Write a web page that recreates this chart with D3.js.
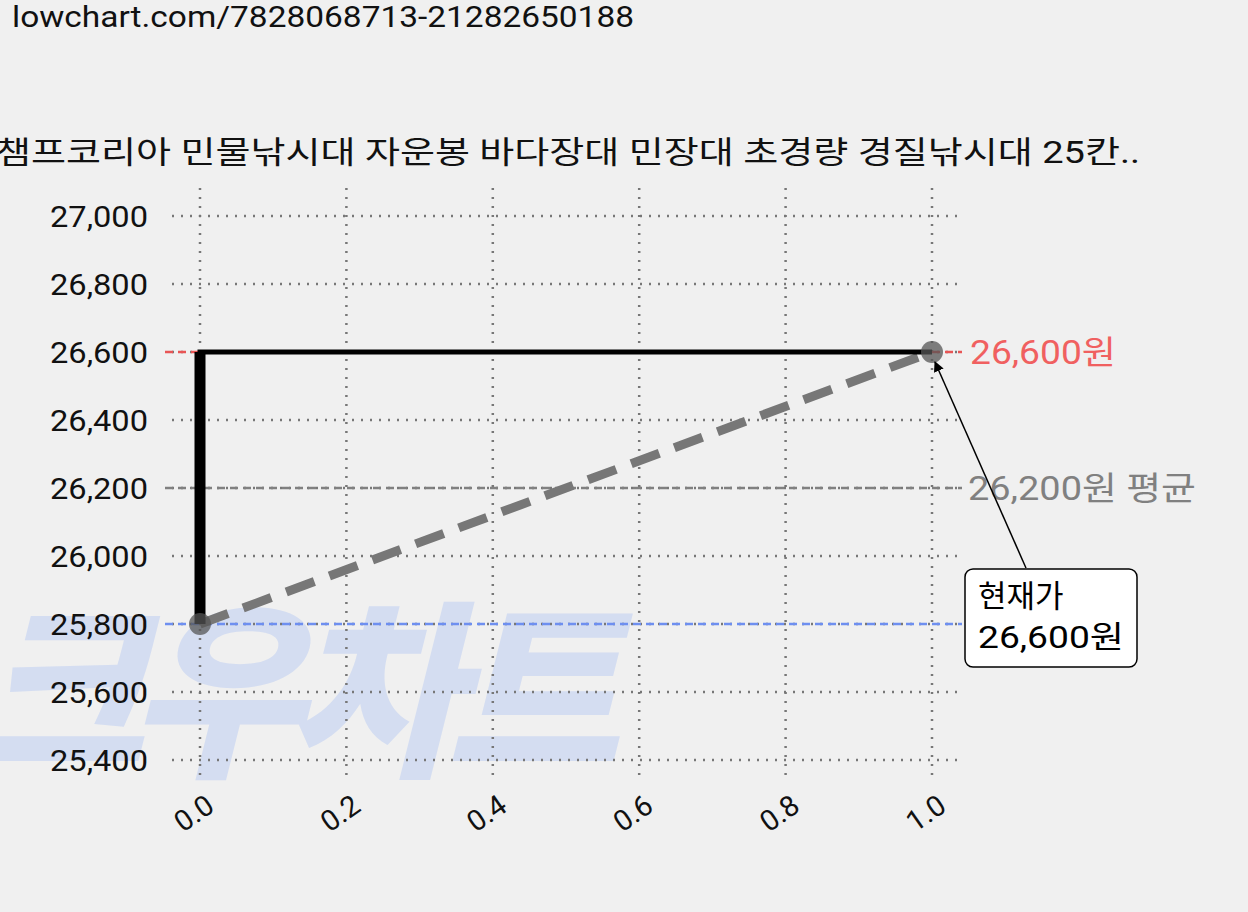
<!DOCTYPE html><html><head><meta charset="utf-8"><script src="https://cdn.jsdelivr.net/npm/d3@7"></script>
<style>body{margin:0;background:#f0f0f0}text{font-family:Roboto,"Noto Sans CJK KR",sans-serif}</style></head><body>
<svg id="c" width="1248" height="912"></svg>
<script>
const xs=[0,1], prices=[25800,26600];
const xTicks=[0,0.2,0.4,0.6,0.8,1.0];
const yTicks=[25400,25600,25800,26000,26200,26400,26600,26800,27000];
const current=26600, avg=26200, low=25800;
const title="챔프코리아 민물낚시대 자운봉 바다장대 민장대 초경량 경질낚시대 25칸..";
const url="lowchart.com/7828068713-21282650188";
const svg=d3.select("#c");
const x=d3.scaleLinear().domain([0,1]).range([200,932]);
const y=d3.scaleLinear().domain([25400,27000]).range([760,216]);
const f=d3.format(",");
svg.append("rect").attr("width",1248).attr("height",912).attr("fill","#f0f0f0");
svg.append("text").attr("x",12).attr("y",27).attr("font-size",29).attr("fill","#111").attr("textLength",622).attr("lengthAdjust","spacingAndGlyphs").text(url);
svg.append("text").attr("x",-4).attr("y",163).attr("font-size",31).attr("fill","#111").attr("textLength",1144).attr("lengthAdjust","spacingAndGlyphs").text(title);
svg.append("text").attr("x",620).attr("y",762).attr("text-anchor","end").attr("font-size",190).attr("font-weight",900).attr("font-style","italic").attr("fill","#d4ddf1").attr("font-family","Noto Sans CJK KR").attr("textLength",650).text("크우차트");
const g=svg.append("g");
yTicks.forEach(t=>g.append("line").attr("x1",172).attr("x2",962).attr("y1",y(t)).attr("y2",y(t)).attr("stroke","#777").attr("stroke-width",2.5).attr("stroke-dasharray","2,7"));
xTicks.forEach(t=>g.append("line").attr("x1",x(t)).attr("x2",x(t)).attr("y1",188).attr("y2",782).attr("stroke","#777").attr("stroke-width",2.5).attr("stroke-dasharray","2,7"));
yTicks.forEach(t=>svg.append("text").attr("x",148).attr("y",y(t)+11).attr("text-anchor","end").attr("font-size",29).attr("fill","#111").attr("textLength",98).attr("lengthAdjust","spacingAndGlyphs").text(f(t)));
xTicks.forEach(t=>svg.append("text").attr("transform",`translate(${x(t)+16},${810}) rotate(-35)`).attr("text-anchor","end").attr("font-size",29).attr("fill","#111").text(t.toFixed(1)));
const hl=(v,c)=>svg.append("line").attr("x1",165).attr("x2",962).attr("y1",y(v)).attr("y2",y(v)).attr("stroke",c).attr("stroke-width",2.5).attr("stroke-dasharray","8,5");
hl(current,"#e85555");hl(avg,"#808080");hl(low,"#6e8ff0");
svg.append("text").attr("x",970).attr("y",y(current)+12).attr("font-size",33).attr("fill","#f06060").attr("textLength",146).attr("lengthAdjust","spacingAndGlyphs").text(f(current)+"원");
svg.append("text").attr("x",968).attr("y",y(avg)+12).attr("font-size",33).attr("fill","#808080").attr("textLength",228).attr("lengthAdjust","spacingAndGlyphs").text(f(avg)+"원 평균");
svg.append("path").attr("d",d3.line()([[x(0),y(prices[0])],[x(1),y(prices[1])]])).attr("stroke","#777").attr("stroke-width",9).attr("stroke-dasharray","30,16").attr("fill","none");
svg.append("path").attr("d",d3.line()([[x(0),y(prices[0])],[x(0),y(prices[1])],[x(1),y(prices[1])]])).attr("stroke","#000").attr("stroke-width",5).attr("fill","none");
svg.append("line").attr("x1",x(0)).attr("x2",x(0)).attr("y1",y(prices[0])).attr("y2",y(prices[1])).attr("stroke","#000").attr("stroke-width",11);
xs.forEach((d,i)=>svg.append("circle").attr("cx",x(d)).attr("cy",y(prices[i])).attr("r",11).attr("fill","#555").attr("opacity",0.75));
svg.append("defs").append("marker").attr("id","ar").attr("viewBox","0 0 10 10").attr("refX",9).attr("refY",5).attr("markerWidth",7).attr("markerHeight",7).attr("orient","auto").append("path").attr("d","M0,0L10,5L0,10z").attr("fill","#000");
svg.append("line").attr("x1",1026).attr("y1",568).attr("x2",935).attr("y2",362).attr("stroke","#000").attr("stroke-width",1.5).attr("marker-end","url(#ar)");
svg.append("rect").attr("x",965).attr("y",569).attr("width",172).attr("height",98).attr("rx",8).attr("fill","#fff").attr("stroke","#000").attr("stroke-width",1.5);
svg.append("text").attr("x",978).attr("y",607).attr("font-size",31).attr("fill","#000").text("현재가");
svg.append("text").attr("x",978).attr("y",648).attr("font-size",31).attr("fill","#000").attr("textLength",146).attr("lengthAdjust","spacingAndGlyphs").text(f(current)+"원");
</script></body></html>
